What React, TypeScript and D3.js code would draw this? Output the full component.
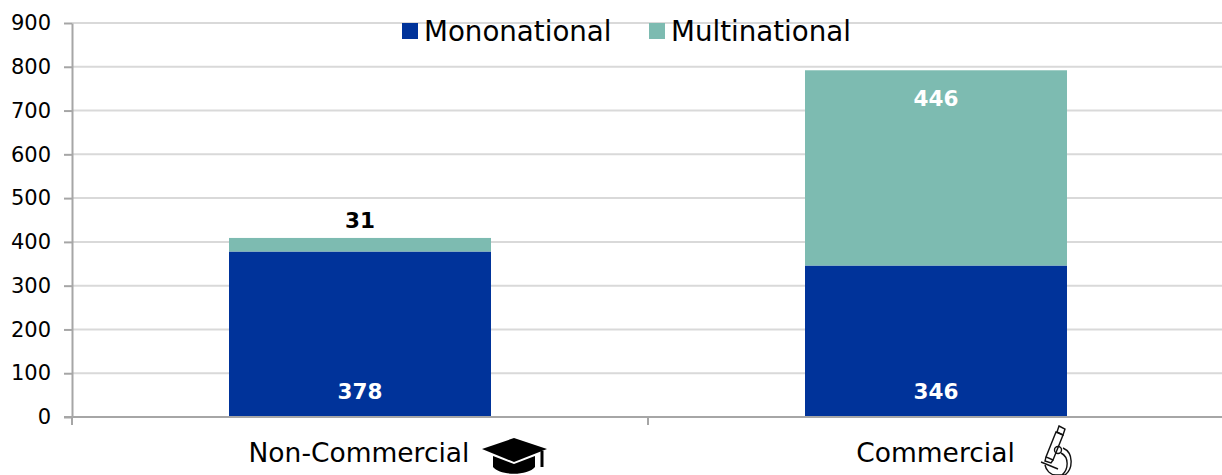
import React, { useEffect, useRef } from "react";
import * as d3 from "d3";

const categories = ["Non-Commercial", "Commercial"];
const seriesNames = ["Mononational", "Multinational"];
const mononational = [378, 346];
const multinational = [31, 446];
const yTicks = [0, 100, 200, 300, 400, 500, 600, 700, 800, 900];
const colors = ["#00339a", "#7dbbb1"];

const App = () => {
  const svgRef = useRef<SVGSVGElement>(null);

  useEffect(() => {
    if (!svgRef.current) return;
    const svg = d3.select(svgRef.current);
    svg.selectAll("*").remove();

    const width = 1222;
    const height = 475;
    const left = 72;
    const right = 1224;
    const top = 23;
    const bottom = 417;
    const font = "'DejaVu Sans', Verdana, sans-serif";

    svg
      .attr("viewBox", [0, 0, width, height])
      .attr("width", width)
      .attr("height", height)
      .style("position", "absolute")
      .style("left", 0)
      .style("top", 0)
      .style("font-family", font);

    const x = d3.scaleBand<string>().domain(categories).range([left, right]);
    const y = d3.scaleLinear().domain([0, 900]).range([bottom, top]);
    const barWidth = 262;

    // Gridlines
    svg
      .append("g")
      .selectAll("line")
      .data(yTicks.slice(1))
      .join("line")
      .attr("x1", left)
      .attr("x2", width)
      .attr("y1", (d) => y(d))
      .attr("y2", (d) => y(d))
      .attr("stroke", "#d9d9d9")
      .attr("stroke-width", 2);

    // Stacked bars
    const stackData = categories.map((c, i) => ({
      category: c,
      Mononational: mononational[i],
      Multinational: multinational[i],
    }));
    const stacked = d3.stack<any>().keys(seriesNames)(stackData);

    svg
      .append("g")
      .selectAll("g")
      .data(stacked)
      .join("g")
      .attr("fill", (_, i) => colors[i])
      .selectAll("rect")
      .data((s) => s)
      .join("rect")
      .attr("x", (d) => x(d.data.category)! + (x.bandwidth() - barWidth) / 2)
      .attr("width", barWidth)
      .attr("y", (d) => y(d[1]))
      .attr("height", (d) => y(d[0]) - y(d[1]));

    // Y axis
    const yAxis = svg
      .append("g")
      .attr("transform", `translate(${left},0)`)
      .call(d3.axisLeft(y).tickValues(yTicks).tickSize(8).tickPadding(13).tickSizeOuter(0));
    yAxis.select(".domain").attr("stroke", "#a6a6a6").attr("stroke-width", 2);
    yAxis.selectAll(".tick line").attr("stroke", "#a6a6a6").attr("stroke-width", 2);
    yAxis
      .selectAll(".tick text")
      .attr("fill", "#000")
      .style("font-family", font)
      .style("font-size", "21px");

    // X axis
    const xAxis = svg
      .append("g")
      .attr("transform", `translate(0,${bottom})`);
    xAxis
      .append("line")
      .attr("x1", left - 8)
      .attr("x2", width)
      .attr("stroke", "#a6a6a6")
      .attr("stroke-width", 2);
    xAxis
      .selectAll("line.sep")
      .data([left, left + x.step()])
      .join("line")
      .attr("class", "sep")
      .attr("x1", (d) => d)
      .attr("x2", (d) => d)
      .attr("y1", 0)
      .attr("y2", 8)
      .attr("stroke", "#a6a6a6")
      .attr("stroke-width", 2);

    // Category labels
    const labelOffsets = [-1, -0.5];
    svg
      .append("g")
      .selectAll("text")
      .data(categories)
      .join("text")
      .attr("x", (d, i) => x(d)! + x.bandwidth() / 2 + labelOffsets[i])
      .attr("y", 462)
      .attr("text-anchor", "middle")
      .attr("font-size", 26.5)
      .attr("fill", "#000")
      .text((d) => d);

    // Value labels
    const labels = [
      { v: mononational[0], c: categories[0], py: y(0) - 24, fill: "#fff" },
      { v: mononational[1], c: categories[1], py: y(0) - 24, fill: "#fff" },
      { v: multinational[0], c: categories[0], py: y(409) - 16, fill: "#000" },
      { v: multinational[1], c: categories[1], py: y(792) + 30, fill: "#fff" },
    ];
    svg
      .append("g")
      .selectAll("text")
      .data(labels)
      .join("text")
      .attr("x", (d) => x(d.c)! + x.bandwidth() / 2)
      .attr("y", (d) => d.py)
      .attr("text-anchor", "middle")
      .attr("dominant-baseline", "middle")
      .attr("font-size", 21.5)
      .attr("font-weight", "bold")
      .attr("fill", (d) => d.fill)
      .text((d) => d.v);

    // Legend
    const legendX = [402, 649];
    const legend = svg
      .append("g")
      .selectAll("g")
      .data(seriesNames)
      .join("g")
      .attr("transform", (_, i) => `translate(${legendX[i]},23)`);
    legend
      .append("rect")
      .attr("width", 16)
      .attr("height", 16)
      .attr("fill", (_, i) => colors[i]);
    legend
      .append("text")
      .attr("x", 22)
      .attr("y", 18)
      .attr("font-size", 27.7)
      .attr("fill", "#000")
      .text((d) => d);

    // Graduation cap icon
    const cap = svg.append("g").attr("transform", "translate(482,438)");
    cap
      .append("path")
      .attr("d", "M0,11 L32,0 L65,11 L32,24 Z")
      .attr("fill", "#000");
    cap
      .append("path")
      .attr("d", "M11,18 L32,26 L53,18 V29 C46,38 18,38 11,29 Z")
      .attr("fill", "#000");
    cap
      .append("path")
      .attr("d", "M60,13 V29")
      .attr("stroke", "#000")
      .attr("stroke-width", 3)
      .attr("fill", "none");

    // Microscope icon
    const scope = svg
      .append("g")
      .attr("transform", "translate(1020,415)")
      .attr("fill", "none")
      .attr("stroke", "#111")
      .attr("stroke-width", 1.4);
    scope.append("path").attr("d", "M36,17 L43,20 L33,45 L26,42 Z");
    scope.append("path").attr("d", "M39,11 L45,14 L43,20 L37,17 Z");
    scope.append("path").attr("d", "M26,42 L25,46 L31,48 L33,45");
    scope.append("path").attr("d", "M21,47 L38,54");
    scope.append("circle").attr("cx", 38).attr("cy", 35).attr("r", 3.5);
    scope
      .append("path")
      .attr("d", "M41,38 C49,42 49,54 42,60 M43,33 C54,38 53,54 45,60 M25,50 C26,55 30,60 36,60 H45");
  }, []);

  return <svg ref={svgRef}></svg>;
};

export default App;
